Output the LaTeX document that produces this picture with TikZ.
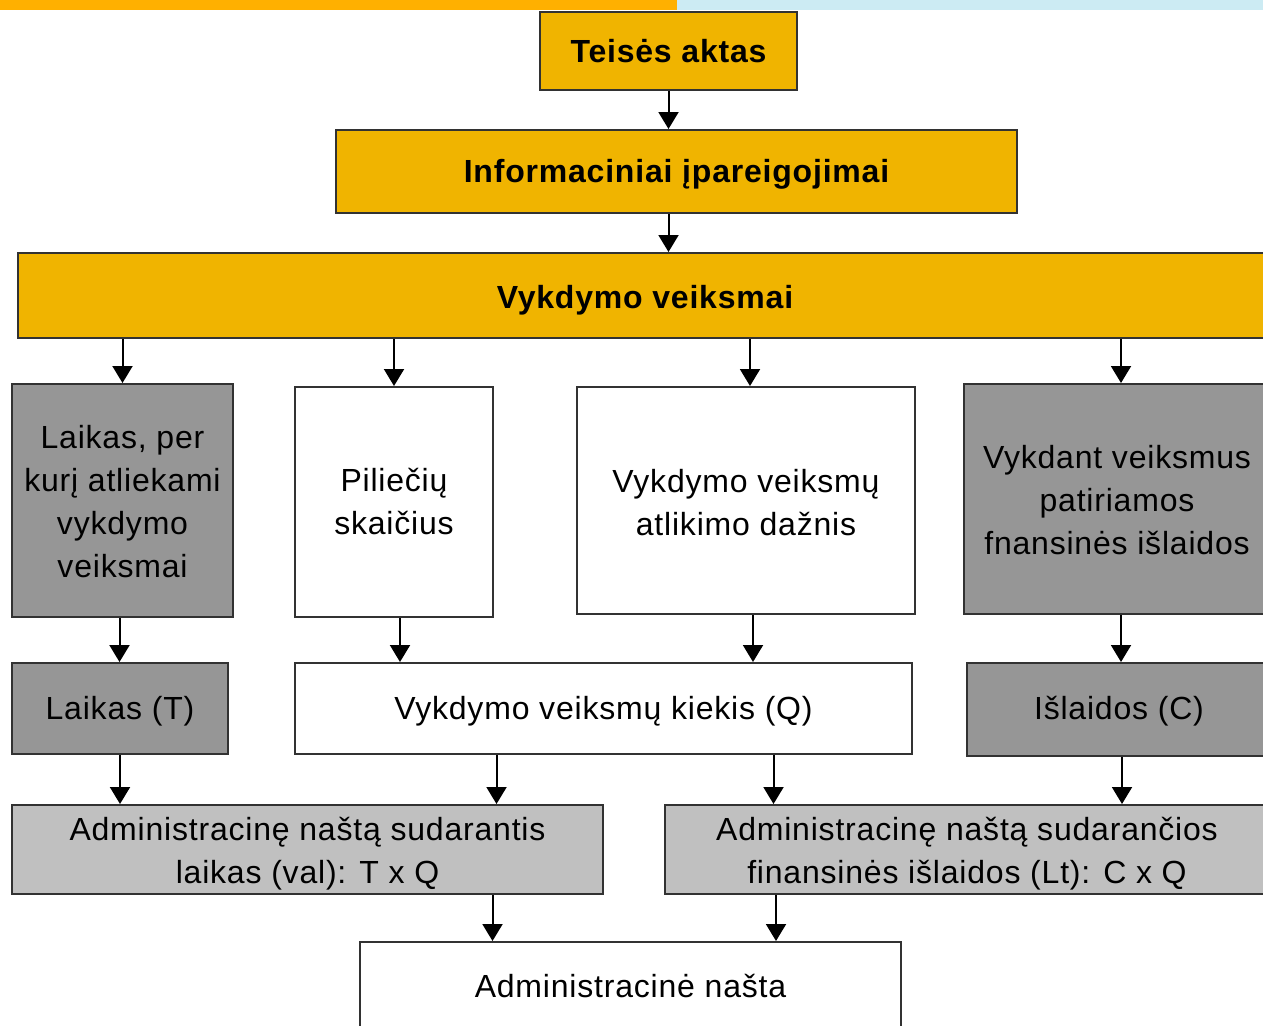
\documentclass[tikz,border=0pt]{standalone}
\usepackage{fontspec}
\setmainfont{Liberation Sans}[LetterSpace=2.5]
\usetikzlibrary{arrows.meta,calc}
\definecolor{topor}{RGB}{255,176,0}
\definecolor{topbl}{RGB}{204,235,243}
\definecolor{boxyel}{RGB}{240,180,0}
\definecolor{boxdg}{RGB}{150,150,150}
\definecolor{boxlg}{RGB}{192,192,192}
\definecolor{edge}{RGB}{50,50,50}
\newcommand\dnstrut[1]{\rule{0pt}{#1pt}}
\tikzset{
  box/.style={draw=edge, line width=2pt, inner sep=0pt, align=center, rectangle,
    font=\fontsize{32}{43}\selectfont},
  ybox/.style={box, fill=boxyel, font=\fontsize{32}{36}\selectfont\bfseries},
  dbox/.style={box, fill=boxdg},
  lbox/.style={box, fill=boxlg},
  wbox/.style={box, fill=white},
  arr/.style={line width=2pt, -{Triangle[width=20pt,length=17pt]}},
}
\begin{document}
\begin{tikzpicture}[x=1pt,y=-1pt]
\useasboundingbox (0,0) rectangle (1263,1025);
\clip (0,0) rectangle (1263,1025);
\fill[white] (0,0) rectangle (1263,1025);
\fill[topor] (0,0) rectangle (677,10);
\fill[topbl] (677,0) rectangle (1263,10);

\node[ybox, minimum width=257pt, minimum height=78pt] (teis) at (668.5,51) {Teisės aktas};
\node[ybox, minimum width=681pt, minimum height=83pt] (info) at (676.5,171.5) {\dnstrut{29.5}Informaciniai įpareigojimai};
\node[ybox, minimum width=1254pt, minimum height=85pt] (vv) at (645,295.5) {\dnstrut{33.5}Vykdymo veiksmai};

\node[dbox, minimum width=221pt, minimum height=233pt] (lp) at (122.5,500.5) {\dnstrut{26}Laikas, per\\kurį atliekami\\vykdymo\\veiksmai};
\node[wbox, minimum width=198pt, minimum height=230pt] (pil) at (394,502) {Piliečių\\skaičius};
\node[wbox, minimum width=338pt, minimum height=227pt] (dazn) at (746,500.5) {\dnstrut{27.5}Vykdymo veiksmų\\atlikimo dažnis};
\node[dbox, minimum width=306pt, minimum height=230pt] (vykd) at (1117,499) {\dnstrut{25.5}Vykdant veiksmus\\patiriamos\\fnansinės išlaidos};

\node[dbox, minimum width=216pt, minimum height=91pt] (laikT) at (120,708.5) {\dnstrut{29.5}Laikas (T)};
\node[wbox, minimum width=617pt, minimum height=91pt] (kiek) at (603.5,708.5) {\dnstrut{29.5}Vykdymo veiksmų kiekis (Q)};
\node[dbox, minimum width=304pt, minimum height=93pt] (isl) at (1119,709.5) {\dnstrut{26}Išlaidos (C)};

\node[lbox, minimum width=591pt, minimum height=89pt] (admL) at (307.5,849.5) {\dnstrut{31.5}Administracinę naštą sudarantis\\laikas (val): T x Q};
\node[lbox, minimum width=604pt, minimum height=89pt] (admF) at (967,849.5) {\dnstrut{31.5}Administracinę naštą sudarančios\\finansinės išlaidos (Lt): C x Q};

\node[wbox, minimum width=541pt, minimum height=88pt] (nasta) at (630.5,986) {Administracinė našta};

\draw[arr] (teis.south) -- (teis.south |- info.north);
\draw[arr] ([xshift=-8pt]info.south) -- ([xshift=-8pt]info.south |- vv.north);

\draw[arr] (vv.south -| lp.north) -- (lp.north);
\draw[arr] (vv.south -| pil.north) -- (pil.north);
\draw[arr] ([xshift=4pt]vv.south -| dazn.north) -- ([xshift=4pt]dazn.north);
\draw[arr] ([xshift=4pt]vv.south -| vykd.north) -- ([xshift=4pt]vykd.north);

\draw[arr] ([xshift=-3pt]lp.south) -- ([xshift=-3pt]lp.south |- laikT.north);
\draw[arr] ([xshift=6pt]pil.south) -- ([xshift=6pt]pil.south |- kiek.north);
\draw[arr] ([xshift=7pt]dazn.south) -- ([xshift=7pt]dazn.south |- kiek.north);
\draw[arr] ([xshift=4pt]vykd.south) -- ([xshift=4pt]vykd.south |- isl.north);

\draw[arr] (laikT.south) -- (laikT.south |- admL.north);
\draw[arr] ([xshift=-107pt]kiek.south) -- ([xshift=-107pt]kiek.south |- admL.north);
\draw[arr] ([xshift=170pt]kiek.south) -- ([xshift=170pt]kiek.south |- admF.north);
\draw[arr] ([xshift=3pt]isl.south) -- ([xshift=3pt]isl.south |- admF.north);

\draw[arr] ([xshift=185pt]admL.south) -- ([xshift=185pt]admL.south |- nasta.north);
\draw[arr] ([xshift=-191pt]admF.south) -- ([xshift=-191pt]admF.south |- nasta.north);
\end{tikzpicture}
\end{document}
